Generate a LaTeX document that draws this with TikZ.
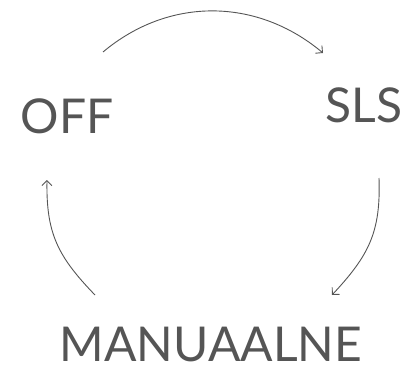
\documentclass[tikz,border=0pt]{standalone}
\usepackage{fontspec}
\setmainfont{Lato}
\usepackage{xcolor}
\usetikzlibrary{arrows.meta, positioning}
\definecolor{txtgray}{HTML}{555555}

\begin{document}
\begin{tikzpicture}[
    x=1pt, y=-1pt,
    state/.style={anchor=base, text=txtgray, inner sep=0pt, font=\fontsize{48}{52}\selectfont},
    arrow/.style={-{Straight Barb[length=5pt, width=10pt]}, draw=txtgray, line width=0.9pt}
]
\useasboundingbox (0,0) rectangle (412,364);

% states
\node[state] (off) at (67,133) {OFF};
\node[state] (sls) at (364,122) {SLS};
\node[state] (man) at (211,361) {MANUAALNE};

% arc ends
\coordinate (a1s) at (103,52);
\coordinate (a1e) at (323,53);
\coordinate (a2s) at (379,178);
\coordinate (a2e) at (332,295);
\coordinate (a3s) at (95,295);
\coordinate (a3e) at (47,180);

% cycle
\draw[arrow] (a1s) to[out=40, in=140, looseness=1] (a1e);
\draw[arrow] (a2s) to[out=-88, in=47, looseness=1.1] (a2e);
\draw[arrow] (a3s) to[out=134, in=-91, looseness=1.1] (a3e);

\end{tikzpicture}
\end{document}
